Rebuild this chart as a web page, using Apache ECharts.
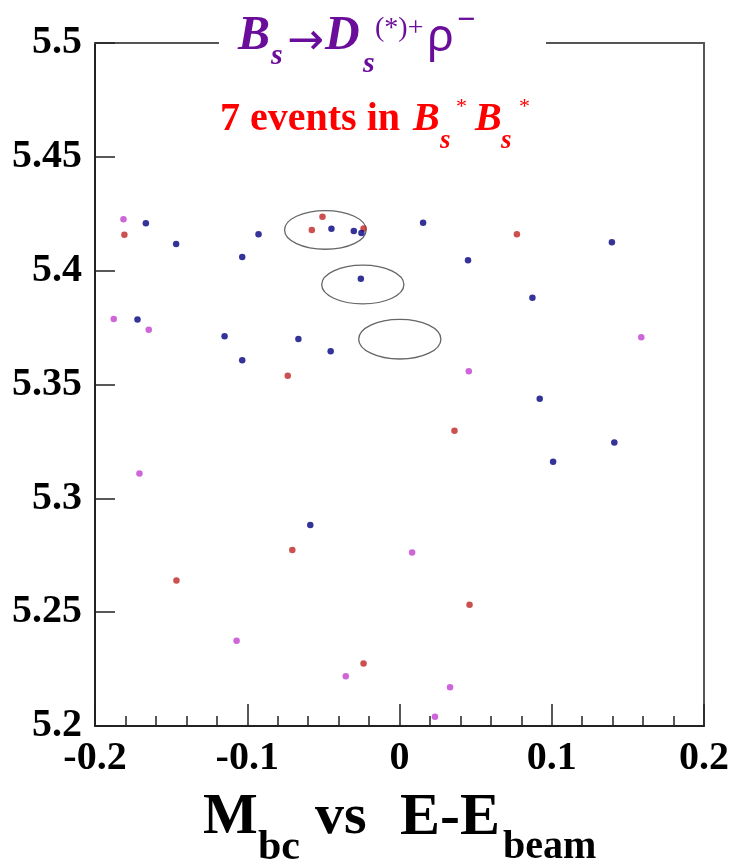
<!DOCTYPE html>
<html><head><meta charset="utf-8">
<script src="https://cdn.jsdelivr.net/npm/echarts@6/dist/echarts.min.js"></script>
<style>html,body{margin:0;padding:0;background:#fff}#chart{width:732px;height:864px}</style>
</head><body><div id="chart"></div>
<script>
// ---- data ----
const blueX = [-0.1666,-0.1467,-0.0926,-0.1033,-0.0447,-0.0300,-0.0250,0.0155,0.1395,0.0450,-0.0254,0.0873,-0.1721,-0.1149,-0.0664,-0.0452,-0.1033,0.0921,0.1411,0.1009,-0.0586];
const blueY = [5.4208,5.4117,5.4160,5.4060,5.4184,5.4174,5.4165,5.4211,5.4125,5.4046,5.3965,5.3881,5.3785,5.3712,5.3700,5.3646,5.3607,5.3437,5.3245,5.3161,5.2883];
const redX = [-0.1807,-0.0506,-0.0576,-0.0236,0.0771,-0.0734,0.0361,-0.0704,-0.1465,0.0460,-0.0236];
const redY = [5.4158,5.4237,5.4179,5.4185,5.4160,5.3538,5.3297,5.2773,5.2639,5.2533,5.2274];
const magX = [-0.1813,-0.1877,-0.1647,0.0455,0.1588,-0.1708,0.0083,-0.1070,-0.0353,0.0332,0.0233];
const magY = [5.4226,5.3788,5.3741,5.3558,5.3707,5.3109,5.2762,5.2375,5.2219,5.2170,5.2041];
const ellipseCX = [-0.0487,-0.0241,0.0002];
const ellipseCY = [5.4179,5.3939,5.3699];
const ellipseRX = [0.0268,0.0270,0.0270];
const ellipseRY = [0.0085,0.0085,0.0087];
const xMin = -0.2, xMax = 0.2, xStep = 0.1;
const yMin = 5.2, yMax = 5.5, yStep = 0.05;

const zip = (a, b) => a.map((v, i) => [v, b[i]]);
const fmt = v => String(Math.round(v * 100) / 100);
const serif = '"Liberation Serif", "Times New Roman", serif';

const chart = echarts.init(document.getElementById('chart'));
const purple = '#6a0d9a';
function txt(text, x, y, font, fill) {
  return { type: 'text', x: x, y: y, z: 200,
    style: { text: text, font: font, fill: fill, align: 'left', verticalAlign: 'middle' } };
}
chart.setOption({
  animation: false,
  backgroundColor: '#fff',
  grid: { left: 95, right: 27, top: 43, bottom: 138 },
  xAxis: [{
    type: 'value', min: xMin, max: xMax, interval: xStep,
    axisLine: { show: true, onZero: false, lineStyle: { color: '#222', width: 2 } },
    axisTick: { show: true, inside: true, length: 22, lineStyle: { color: '#222', width: 1.5 } },
    minorTick: { show: true, splitNumber: 5, length: 10, lineStyle: { color: '#222', width: 1.5 } },
    splitLine: { show: false },
    axisLabel: { formatter: fmt, fontFamily: serif, fontWeight: 'bold', fontSize: 40, color: '#000', margin: 13 }
  }, {
    type: 'value', position: 'top', min: xMin, max: xMax, interval: xStep,
    axisLine: { show: true, onZero: false, lineStyle: { color: '#555', width: 2 } },
    axisTick: { show: false }, axisLabel: { show: false }, splitLine: { show: false }
  }],
  yAxis: [{
    type: 'value', min: yMin, max: yMax, interval: yStep,
    axisLine: { show: true, onZero: false, lineStyle: { color: '#222', width: 2 } },
    axisTick: { show: true, inside: true, length: 20, lineStyle: { color: '#222', width: 1.5 } },
    splitLine: { show: false },
    axisLabel: { formatter: fmt, fontFamily: serif, fontWeight: 'bold', fontSize: 40, color: '#000', margin: 13 }
  }, {
    type: 'value', position: 'right', min: yMin, max: yMax, interval: yStep,
    axisLine: { show: true, onZero: false, lineStyle: { color: '#555', width: 2 } },
    axisTick: { show: false }, axisLabel: { show: false }, splitLine: { show: false }
  }],
  series: [
    { type: 'custom', xAxisIndex: 0, yAxisIndex: 0, z: 3,
      data: ellipseCX.map((cx, i) => [cx, ellipseCY[i], ellipseRX[i], ellipseRY[i]]),
      renderItem: function (params, api) {
        const c = api.coord([api.value(0), api.value(1)]);
        const s = api.size([api.value(2), api.value(3)]);
        return { type: 'ellipse', shape: { cx: c[0], cy: c[1], rx: s[0], ry: s[1] },
          style: { fill: 'none', stroke: '#666', lineWidth: 1.3 } };
      } },
    { type: 'scatter', symbol: 'circle', symbolSize: 6.5, data: zip(magX, magY), itemStyle: { color: '#c23fcf' }, z: 4 },
    { type: 'scatter', symbol: 'circle', symbolSize: 6.5, data: zip(redX, redY), itemStyle: { color: '#c02424' }, z: 5 },
    { type: 'scatter', symbol: 'circle', symbolSize: 6.5, data: zip(blueX, blueY), itemStyle: { color: '#000080' }, z: 6 }
  ],
  graphic: [
    { type: 'rect', x: 219, y: 34, z: 150, shape: { width: 327, height: 18 }, style: { fill: '#fff' } },
    txt('B', 238, 37, 'italic bold 48px ' + serif, purple),
    txt('s', 271, 56, 'italic bold 30px ' + serif, purple),
    txt('\u2192', 287, 43, '44px "DejaVu Sans", sans-serif', purple),
    txt('D', 325, 37, 'italic bold 48px ' + serif, purple),
    txt('s', 363, 64, 'italic bold 30px ' + serif, purple),
    txt('(*)+', 375, 29, '28px ' + serif, purple),
    txt('\u03c1', 427, 38, '45px "Noto Sans", sans-serif', purple),
    txt('\u2212', 457, 21, '32px "Noto Sans", sans-serif', purple),
    txt('7 events in', 220, 120, 'bold 40px ' + serif, '#ff0000'),
    txt('B', 413, 120, 'italic bold 40px ' + serif, '#ff0000'),
    txt('s', 440, 141, 'italic bold 27px ' + serif, '#ff0000'),
    txt('*', 456, 107, '22px ' + serif, '#ff0000'),
    txt('B', 475, 120, 'italic bold 40px ' + serif, '#ff0000'),
    txt('s', 501, 141, 'italic bold 27px ' + serif, '#ff0000'),
    txt('*', 519, 107, '22px ' + serif, '#ff0000'),
    txt('M', 203, 818, 'bold 58px ' + serif, '#000'),
    txt('bc', 258, 848, 'bold 42px ' + serif, '#000'),
    txt('vs', 315, 818, 'bold 58px ' + serif, '#000'),
    txt('E-E', 400, 818, 'bold 60px ' + serif, '#000'),
    txt('beam', 503, 848, 'bold 40px ' + serif, '#000')
  ]
});
</script></body></html>
